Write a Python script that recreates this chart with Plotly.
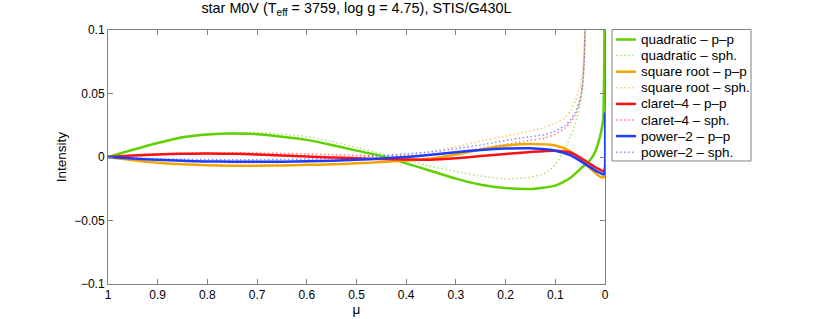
import plotly.graph_objects as go

# ---------------- data ----------------
mu_pp = [1, 0.95, 0.9, 0.85, 0.8, 0.75, 0.7, 0.65, 0.6, 0.55, 0.5, 0.45, 0.4, 0.35,
         0.3, 0.25, 0.2, 0.15, 0.1, 0.07, 0.05, 0.03, 0.02, 0.01, 0.005, 0.003, 0.001, 0]

quadratic_pp = [0, 0.0057, 0.0110, 0.0155, 0.0178, 0.0186, 0.0180, 0.0160, 0.0135, 0.0095,
                0.0050, 0.0008, -0.0050, -0.0110, -0.0170, -0.0218, -0.0245, -0.0252,
                -0.0225, -0.0165, -0.0095, -0.0024, 0.0040, 0.0160, 0.0260, 0.0345, 0.1000, 0.1300]
sqrt_pp = [0, -0.0025, -0.0045, -0.0058, -0.0065, -0.0068, -0.0068, -0.0066, -0.0062, -0.0058,
           -0.0050, -0.0040, -0.0028, -0.0012, 0.0020, 0.0058, 0.0090, 0.0102,
           0.0090, 0.0045, -0.0015, -0.0090, -0.0125, -0.0155, -0.0162, -0.0160, -0.0157, -0.0150]
claret_pp = [0, 0.0012, 0.0020, 0.0025, 0.0027, 0.0025, 0.0020, 0.0012, 0.0004, -0.0003,
             -0.0010, -0.0016, -0.0020, -0.0022, -0.0010, 0.0008, 0.0024, 0.0040,
             0.0050, 0.0035, -0.0005, -0.0055, -0.0080, -0.0100, -0.0110, -0.0112, -0.0110, -0.0080]
power2_pp = [0, -0.0012, -0.0022, -0.0030, -0.0035, -0.0037, -0.0038, -0.0037, -0.0034, -0.0030,
             -0.0022, -0.0012, 0.0000, 0.0018, 0.0038, 0.0055, 0.0066, 0.0068,
             0.0050, 0.0015, -0.0030, -0.0080, -0.0105, -0.0125, -0.0135, -0.0138, -0.0130, 0.0350]

mu_sph = [1, 0.95, 0.9, 0.85, 0.8, 0.75, 0.7, 0.65, 0.6, 0.55, 0.5, 0.45, 0.4, 0.35,
          0.3, 0.25, 0.2, 0.15, 0.12, 0.1, 0.08, 0.07, 0.06, 0.05, 0.045, 0.042, 0.04, 0.039]

quadratic_sph = [0, 0.0055, 0.0105, 0.0148, 0.0175, 0.0190, 0.0192, 0.0180, 0.0160, 0.0122,
                 0.0075, 0.0025, -0.0020, -0.0075, -0.0115, -0.0150, -0.0172, -0.0160,
                 -0.0125, -0.0060, 0.0070, 0.0160, 0.0260, 0.0420, 0.0580, 0.0780, 0.1050, 0.1300]
sqrt_sph = [0, -0.0015, -0.0028, -0.0036, -0.0042, -0.0045, -0.0046, -0.0044, -0.0040, -0.0032,
            -0.0022, -0.0008, 0.0015, 0.0045, 0.0080, 0.0125, 0.0165, 0.0205,
            0.0235, 0.0265, 0.0310, 0.0360, 0.0440, 0.0560, 0.0680, 0.0820, 0.1050, 0.1300]
claret_sph = [0, 0.0015, 0.0025, 0.0030, 0.0032, 0.0032, 0.0031, 0.0028, 0.0024, 0.0019,
              0.0014, 0.0009, 0.0008, 0.0018, 0.0040, 0.0068, 0.0100, 0.0132,
              0.0150, 0.0180, 0.0230, 0.0270, 0.0330, 0.0440, 0.0560, 0.0730, 0.1050, 0.1300]
power2_sph = [0, -0.0008, -0.0014, -0.0018, -0.0020, -0.0021, -0.0021, -0.0020, -0.0016, -0.0010,
              -0.0002, 0.0010, 0.0025, 0.0040, 0.0065, 0.0095, 0.0130, 0.0160,
              0.0178, 0.0205, 0.0250, 0.0290, 0.0350, 0.0460, 0.0580, 0.0750, 0.1050, 0.1300]

x_ticks = [1, 0.9, 0.8, 0.7, 0.6, 0.5, 0.4, 0.3, 0.2, 0.1, 0]
x_ticktext = ["1", "0.9", "0.8", "0.7", "0.6", "0.5", "0.4", "0.3", "0.2", "0.1", "0"]
y_ticks = [-0.1, -0.05, 0, 0.05, 0.1]
y_ticktext = ["\u22120.1", "\u22120.05", "0", "0.05", "0.1"]

names = ["quadratic \u2013 p\u2013p", "quadratic \u2013 sph.",
         "square root \u2013 p\u2013p", "square root \u2013 sph.",
         "claret\u20134 \u2013 p\u2013p", "claret\u20134 \u2013 sph.",
         "power\u20132 \u2013 p\u2013p", "power\u20132 \u2013 sph."]

colors = {"green": "#5fd000", "orange": "#f0a500", "red": "#ff1010", "blue": "#1c3cff"}

FONT = "Liberation Sans, Arial, Helvetica, sans-serif"

# ---------------- layout geometry (pixels) ----------------
W, H = 830, 319
PL, PR, PT, PB = 108, 605, 30, 284          # plot area edges
pw, ph = PR - PL, PB - PT


def px_x(px):
    return (px - PL) / pw


def px_y(py):
    return (PB - py) / ph


series = [
    (mu_pp, quadratic_pp, names[0], colors["green"], "pp"),
    (mu_sph, quadratic_sph, names[1], colors["green"], "sph"),
    (mu_pp, sqrt_pp, names[2], colors["orange"], "pp"),
    (mu_sph, sqrt_sph, names[3], colors["orange"], "sph"),
    (mu_pp, claret_pp, names[4], colors["red"], "pp"),
    (mu_sph, claret_sph, names[5], colors["red"], "sph"),
    (mu_pp, power2_pp, names[6], colors["blue"], "pp"),
    (mu_sph, power2_sph, names[7], colors["blue"], "sph"),
]

PP_STYLE = dict(width=2.5)
SPH_STYLE = dict(width=1.5, dash="1.5px,2.5px")
SPH_OPACITY = 0.55

fig = go.Figure()
order = [1, 3, 5, 7, 0, 2, 4, 6]   # dotted first, solid on top
for i in order:
    x, y, name, col, kind = series[i]
    st = PP_STYLE if kind == "pp" else SPH_STYLE
    fig.add_trace(go.Scatter(
        x=x, y=y, mode="lines", name=name, showlegend=False, hoverinfo="skip",
        line=dict(color=col, shape="spline", smoothing=0.6, **st),
        opacity=1.0 if kind == "pp" else SPH_OPACITY))

# ---------------- custom legend (MATLAB-like compact box) ----------------
LEG_L, LEG_R, LEG_T, LEG_B = 612, 751, 29.5, 161
ROW0, ROW_DY = 39.5, 16.1
shapes = [dict(type="rect", xref="paper", yref="paper",
               x0=px_x(LEG_L), x1=px_x(LEG_R), y0=px_y(LEG_B), y1=px_y(LEG_T),
               line=dict(color="#808080", width=1), fillcolor="white", layer="above")]
annotations = []
for i, (x, y, name, col, kind) in enumerate(series):
    yy = px_y(ROW0 + i * ROW_DY)
    st = PP_STYLE if kind == "pp" else SPH_STYLE
    shapes.append(dict(type="line", xref="paper", yref="paper",
                       x0=px_x(616), x1=px_x(636), y0=yy, y1=yy,
                       line=dict(color=col, **st),
                       opacity=1.0 if kind == "pp" else SPH_OPACITY, layer="above"))
    annotations.append(dict(text=name, xref="paper", yref="paper",
                            x=px_x(639), y=yy, xanchor="left", yanchor="middle",
                            showarrow=False, font=dict(family=FONT, size=13.5, color="black")))

axis_col = "#808080"
fig.update_layout(
    width=W, height=H,
    margin=dict(l=PL, r=W - PR, t=PT, b=H - PB, autoexpand=False),
    paper_bgcolor="white", plot_bgcolor="white",
    font=dict(family=FONT, size=12, color="black"),
    title=dict(text="star M0V (T<sub>eff</sub> = 3759, log g = 4.75), STIS/G430L",
               x=(PL + PR) / 2 / W, xanchor="center", y=1 - 8 / H, yanchor="middle",
               font=dict(family=FONT, size=14.4, color="black")),
    showlegend=False,
    hovermode=False,
    shapes=shapes,
    annotations=annotations,
)
fig.update_xaxes(range=[1, 0], tickvals=x_ticks, ticktext=x_ticktext,
                 ticks="inside", ticklen=5, tickcolor=axis_col,
                 showline=True, linecolor=axis_col, linewidth=1, mirror="ticks",
                 showgrid=False, zeroline=False, automargin=False,
                 title=dict(text="\u03bc", standoff=0, font=dict(size=13.5)),
                 tickfont=dict(family=FONT, size=12, color="black"))
fig.update_yaxes(range=[-0.1, 0.1], tickvals=y_ticks, ticktext=y_ticktext,
                 ticks="inside", ticklen=5, tickcolor=axis_col,
                 showline=True, linecolor=axis_col, linewidth=1, mirror="ticks",
                 showgrid=False, zeroline=False, automargin=False,
                 title=dict(text="Intensity", standoff=4, font=dict(size=13.5)),
                 tickfont=dict(family=FONT, size=12, color="black"))

# remove the page's default 8px body margin so the figure sits at the window origin
fig.write_html("out.html", config={"displayModeBar": False},
               post_script="document.body.style.margin='0px';")
